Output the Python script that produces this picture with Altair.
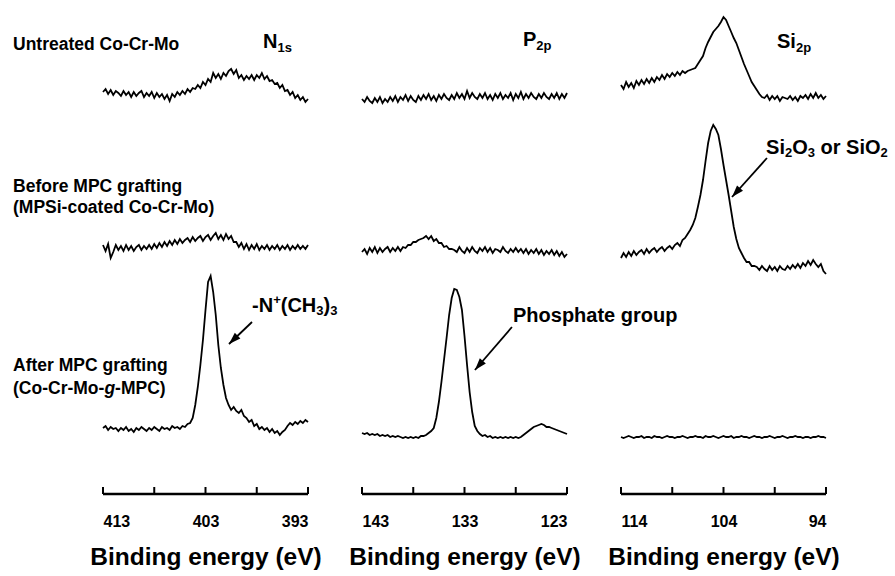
import altair as alt
import numpy as np
import pandas as pd

FONT = "Liberation Sans"

# Binding-energy windows (eV, high -> low)
n1s_window = (413, 393)
p2p_window = (143, 123)
si2p_window = (114, 94)

samples = ["Untreated Co-Cr-Mo", "Before MPC grafting", "After MPC grafting"]
# vertical stacking offset of each sample's spectrum (counts, a.u.)
sample_offsets = [394, 239, 54]

# ---- N 1s intensities (a.u.), 0.25 eV steps from 413 to 393 eV ----
n1s_untreated = [8, 11, 6, 10, 5, 9, 7, 4, 9, 5, 8, 3, 8, 4, 7, 9, 3, 7, 4, 8,
                 2, 7, 3, 6, 1, 5, -1, 6, 3, 8, 5, 9, 6, 11, 8, 12, 11, 15, 12, 18,
                 15, 21, 18, 27, 22, 26, 21, 27, 24, 29, 31, 26, 30, 22, 25, 20, 24, 21, 25, 20,
                 25, 22, 27, 21, 24, 19, 20, 16, 17, 12, 15, 9, 10, 5, 8, 2, 5, 0, 3, -2, 1]
n1s_before = [10, 4, 11, -3, 3, 10, 5, 9, 4, 10, 5, 9, 4, 8, 10, 5, 9, 6, 10, 6,
              11, 7, 12, 8, 13, 9, 14, 10, 15, 11, 16, 12, 15, 17, 13, 18, 14, 17, 19, 14,
              18, 20, 15, 19, 22, 16, 20, 15, 21, 16, 19, 13, 13, 8, 12, 6, 11, 5, 10, 6,
              11, 5, 9, 6, 10, 5, 9, 6, 10, 5, 9, 6, 10, 5, 9, 6, 10, 6, 9, 6, 10]
n1s_after = [12, 14, 10, 13, 11, 12, 9, 12, 10, 13, 9, 11, 8, 12, 10, 13, 11, 9, 12, 10,
             13, 11, 9, 13, 11, 12, 10, 14, 12, 13, 11, 14, 13, 16, 17, 22, 35, 53, 75, 100,
             130, 158, 164, 148, 125, 95, 72, 55, 42, 35, 30, 33, 29, 27, 30, 24, 22, 18, 20, 14,
             16, 11, 13, 10, 12, 8, 11, 7, 9, 5, 8, 10, 14, 17, 15, 18, 16, 19, 17, 20, 18]

# ---- P 2p intensities (a.u.), 0.25 eV steps from 143 to 123 eV ----
p2p_untreated = [1, -2, 3, -1, -3, 2, -2, 3, -3, 1, -2, 3, -1, 4, -2, 3, 0, 5, -1, 4,
                 0, -2, 4, 0, 5, 1, 6, 0, 4, -1, 5, 1, 6, 2, 0, 5, 1, 7, 2, 6,
                 1, 9, 2, 7, 3, 1, 6, 2, 7, 1, 5, 0, 6, 2, 7, 1, 5, 2, 7, 0,
                 6, 2, 8, 1, 6, 2, 7, 3, 1, 6, 2, 7, 3, 1, 6, 2, 7, 1, 6, 2, 7]
p2p_before = [3, 6, 1, 7, 3, 8, 2, 7, 3, 6, 8, 3, 7, 4, 8, 4, 8, 7, 10, 10,
              13, 13, 15, 16, 17, 19, 16, 19, 14, 16, 12, 12, 8, 9, 6, 6, 5, 3, 8, 4,
              2, 7, 3, 8, 4, 2, 7, 4, 8, 3, 7, 2, 6, 5, 3, 8, 4, 2, 6, 3,
              7, 3, 6, 2, 6, 1, 5, 2, 6, 1, 5, 0, 4, 1, 5, 0, 4, -1, 3, -2, 1]
p2p_after = [7, 6, 7, 5, 6, 5, 6, 4, 5, 4, 5, 3, 4, 3, 4, 3, 2, 3, 2, 3,
             2, 3, 2, 4, 4, 5, 7, 9, 12, 22, 38, 58, 80, 102, 125, 142, 151, 150, 143, 130,
             104, 75, 48, 28, 14, 9, 6, 4, 5, 3, 4, 2, 3, 2, 3, 2, 3, 2, 3, 2,
             3, 2, 3, 5, 7, 9, 11, 13, 14, 15, 16, 15, 13, 13, 12, 11, 10, 9, 8, 7, 6]

# ---- Si 2p intensities (a.u.), 0.25 eV steps from 114 to 94 eV ----
si2p_untreated = [15, 11, 18, 13, 17, 12, 19, 15, 20, 16, 21, 17, 22, 18, 23, 20, 25, 21, 26, 23,
                  27, 24, 28, 25, 29, 27, 29, 30, 31, 32, 36, 40, 44, 52, 58, 63, 68, 71, 74, 78,
                  83, 80, 74, 68, 62, 57, 50, 43, 36, 30, 24, 18, 14, 10, 6, 3, 2, 5, 0, 4,
                  1, 4, -1, 3, 2, 1, 4, 0, 3, -1, 4, 2, 5, 1, 6, 2, 7, 2, 5, 1, 4]
si2p_before = [-3, 2, -2, 3, -1, 4, 0, 3, 5, 1, 6, 2, 5, 7, 3, 6, 8, 4, 7, 9,
               6, 10, 12, 9, 15, 17, 21, 25, 30, 37, 48, 60, 75, 94, 112, 124, 130, 126, 120, 106,
               90, 75, 60, 44, 28, 16, 7, 2, -3, -7, -7, -11, -11, -12, -15, -11, -14, -16, -11, -15,
               -12, -16, -11, -14, -15, -11, -14, -10, -13, -9, -13, -8, -11, -6, -10, -5, -9, -12, -9, -16, -19]
si2p_after = [3, 2, 3, 4, 3, 2, 3, 3, 4, 2, 3, 3, 2, 4, 3, 3, 2, 3, 4, 3,
              3, 2, 3, 3, 4, 3, 2, 3, 3, 4, 3, 3, 2, 4, 3, 3, 4, 3, 2, 3,
              4, 3, 3, 4, 2, 3, 3, 4, 3, 3, 2, 3, 4, 3, 3, 2, 3, 3, 4, 3,
              2, 3, 3, 4, 3, 2, 3, 3, 4, 3, 3, 2, 3, 3, 2, 3, 3, 4, 3, 3, 2]

# axis ticks (every 5 eV) and the labelled subset (every 10 eV)
n1s_ticks, n1s_labels = [413, 408, 403, 398, 393], [413, 403, 393]
p2p_ticks, p2p_labels = [143, 138, 133, 128, 123], [143, 133, 123]
si2p_ticks, si2p_labels = [114, 109, 104, 99, 94], [114, 104, 94]

PLOT_W, PLOT_H = 205, 484
ARROW_HEAD = "M0,0L0.8,2.4L-0.8,2.4Z"


def spectra_frame(window, traces):
    hi, lo = window
    energy = np.linspace(hi, lo, len(traces[0]))
    parts = []
    for name, off, vals in zip(samples, sample_offsets, traces):
        parts.append(pd.DataFrame({"E": energy, "I": np.asarray(vals, float) + off,
                                   "sample": name}))
    return pd.concat(parts, ignore_index=True)


def panel(window, traces, ticks, labels, texts, arrows):
    hi, lo = window
    xscale = alt.Scale(domain=[lo, hi], reverse=True, nice=False, zero=False)
    xaxis = alt.Axis(values=labels, domain=False, ticks=False, grid=False,
                     labelFlush=True, labelFont=FONT, labelFontSize=16,
                     labelFontWeight="bold", labelColor="black", labelPadding=19,
                     title="Binding energy (eV)", titleFont=FONT, titleFontSize=24.5,
                     titleFontWeight="bold", titleColor="black", titlePadding=16)
    yscale = alt.Scale(domain=[0, PLOT_H], nice=False, zero=False)

    def X():
        return alt.X("E:Q", scale=xscale, axis=xaxis)

    def Y():
        return alt.Y("I:Q", scale=yscale, axis=None)

    layers = [
        alt.Chart(spectra_frame(window, traces)).mark_line(
            color="black", strokeWidth=1.8).encode(x=X(), y=Y(), detail="sample:N"),
        alt.Chart(pd.DataFrame({"E": [hi], "E2": [lo], "I": [0]})).mark_rule(
            color="black", strokeWidth=2.5).encode(x=X(), x2="E2:Q", y=Y()),
        alt.Chart(pd.DataFrame({"E": ticks, "I": [0] * len(ticks), "I2": [7] * len(ticks)})).mark_rule(
            color="black", strokeWidth=2).encode(x=X(), y=Y(), y2="I2:Q"),
    ]
    for (e, i, pieces) in texts:
        for (txt, dx, dy, size, style) in pieces:
            kw = dict(text=txt, align="left", baseline="middle", font=FONT,
                      fontSize=size, fontWeight="bold", color="black", dx=dx, dy=dy)
            if style:
                kw["fontStyle"] = style
            layers.append(alt.Chart(pd.DataFrame({"E": [e], "I": [i]})).mark_text(**kw)
                          .encode(x=X(), y=Y()))
    for (e1, i1, e2, i2, ang) in arrows:
        layers.append(alt.Chart(pd.DataFrame({"E": [e1], "I": [i1], "E2": [e2], "I2": [i2]}))
                      .mark_rule(color="black", strokeWidth=1.8)
                      .encode(x=X(), y=Y(), x2="E2:Q", y2="I2:Q"))
        layers.append(alt.Chart(pd.DataFrame({"E": [e2], "I": [i2]}))
                      .mark_point(shape=ARROW_HEAD, filled=True, size=100, angle=ang,
                                  color="black", opacity=1, strokeWidth=0)
                      .encode(x=X(), y=Y()))
    return alt.layer(*layers).properties(width=PLOT_W, height=PLOT_H)


ROW = 17.5
n1s_texts = [
    (421.78, 449, [("Untreated Co-Cr-Mo", 0, 0, ROW, None)]),
    (421.78, 307, [("Before MPC grafting", 0, 0, ROW, None)]),
    (421.78, 286, [("(MPSi-coated Co-Cr-Mo)", 0, 0, ROW, None)]),
    (421.78, 128, [("After MPC grafting", 0, 0, ROW, None)]),
    (421.78, 105, [("(Co-Cr-Mo-", 0, 0, ROW, None), ("g", 91.4, 0, ROW, "italic"),
                   ("-MPC)", 102.1, 0, ROW, None)]),
    (397.39, 452, [("N", 0, 0, 20, None), ("1s", 14.4, 6, 13, None)]),
    (398.46, 188, [("-N", 0, 0, 20, None), ("+", 21.1, -6, 13, None), ("(CH", 28.7, 0, 20, None),
                   ("3", 64.2, 5, 13, None), (")", 71.4, 0, 20, None), ("3", 78.1, 5, 13, None)]),
]
n1s_arrows = [(398.46, 172, 400.71, 150, 226)]

p2p_texts = [
    (127.29, 454, [("P", 0, 0, 20, None), ("2p", 13.3, 6, 13, None)]),
    (128.27, 178, [("Phosphate group", 0, 0, 20, None)]),
]
p2p_arrows = [(128.37, 167, 131.98, 124, 221)]

si2p_texts = [
    (98.78, 452, [("Si", 0, 0, 20, None), ("2p", 18.9, 6, 13, None)]),
    (99.85, 346, [("Si", 0, 0, 20, None), ("2", 18.9, 5, 13, None), ("O", 26.1, 0, 20, None),
                  ("3", 41.7, 5, 13, None), ("or SiO", 54.5, 0, 20, None), ("2", 114.5, 5, 13, None)]),
]
si2p_arrows = [(99.76, 336, 103.17, 297, 222)]

chart = alt.hconcat(
    panel(n1s_window, [n1s_untreated, n1s_before, n1s_after], n1s_ticks, n1s_labels,
          n1s_texts, n1s_arrows),
    panel(p2p_window, [p2p_untreated, p2p_before, p2p_after], p2p_ticks, p2p_labels,
          p2p_texts, p2p_arrows),
    panel(si2p_window, [si2p_untreated, si2p_before, si2p_after], si2p_ticks, si2p_labels,
          si2p_texts, si2p_arrows),
    spacing=54, bounds="flush",
).properties(
    padding={"left": 13, "top": 10, "right": 2, "bottom": 2},
    background="white",
).configure_view(stroke=None)

chart.save("out.html", embed_options={"renderer": "svg", "actions": False})
